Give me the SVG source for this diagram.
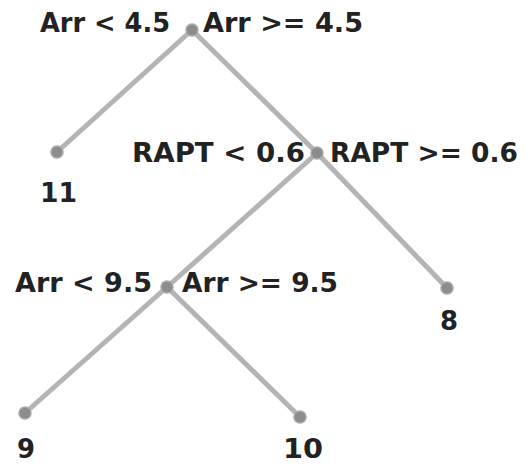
<svg xmlns="http://www.w3.org/2000/svg" width="527" height="465" viewBox="0 0 527 465">
<style>
.edge{stroke:#b4b4b4;stroke-width:5;stroke-linecap:round;fill:none}
.dot{fill:#8c8c8c;stroke:#a8a8a8;stroke-width:1.5}
.lbl{font-family:"DejaVu Sans",sans-serif;font-weight:bold;font-size:26px;fill:#222}
</style>
<rect width="527" height="465" fill="#fff"/>
<g id="connectors">
<line class="edge" x1="192" y1="30" x2="57" y2="152"/>
<line class="edge" x1="192" y1="30" x2="317" y2="153"/>
<line class="edge" x1="317" y1="153" x2="167" y2="287"/>
<line class="edge" x1="317" y1="153" x2="447" y2="288"/>
<line class="edge" x1="167" y1="287" x2="25" y2="413"/>
<line class="edge" x1="167" y1="287" x2="300" y2="417"/>
</g>
<g id="root">
<circle class="dot" cx="192" cy="30" r="6"/>
<text class="lbl" x="40" y="32" textLength="130" lengthAdjust="spacingAndGlyphs">Arr &lt; 4.5</text>
<text class="lbl" x="203" y="32" textLength="160" lengthAdjust="spacingAndGlyphs">Arr &gt;= 4.5</text>
</g>
<g id="leaf11">
<circle class="dot" cx="57" cy="152" r="6"/>
<text class="lbl" x="40" y="202" textLength="37" lengthAdjust="spacingAndGlyphs">11</text>
</g>
<g id="rapt">
<circle class="dot" cx="317" cy="153" r="6"/>
<text class="lbl" x="132" y="162" textLength="173" lengthAdjust="spacingAndGlyphs">RAPT &lt; 0.6</text>
<text class="lbl" x="330" y="162" textLength="188" lengthAdjust="spacingAndGlyphs">RAPT &gt;= 0.6</text>
</g>
<g id="arr95">
<circle class="dot" cx="167" cy="287" r="6"/>
<text class="lbl" x="15" y="292" textLength="137" lengthAdjust="spacingAndGlyphs">Arr &lt; 9.5</text>
<text class="lbl" x="182" y="292" textLength="156" lengthAdjust="spacingAndGlyphs">Arr &gt;= 9.5</text>
</g>
<g id="leaf8">
<circle class="dot" cx="447" cy="288" r="6"/>
<text class="lbl" x="440" y="330" textLength="18" lengthAdjust="spacingAndGlyphs">8</text>
</g>
<g id="leaf9">
<circle class="dot" cx="25" cy="413" r="6"/>
<text class="lbl" x="17" y="458" textLength="18" lengthAdjust="spacingAndGlyphs">9</text>
</g>
<g id="leaf10">
<circle class="dot" cx="300" cy="417" r="6"/>
<text class="lbl" x="283" y="458" textLength="40" lengthAdjust="spacingAndGlyphs">10</text>
</g>
</svg>
